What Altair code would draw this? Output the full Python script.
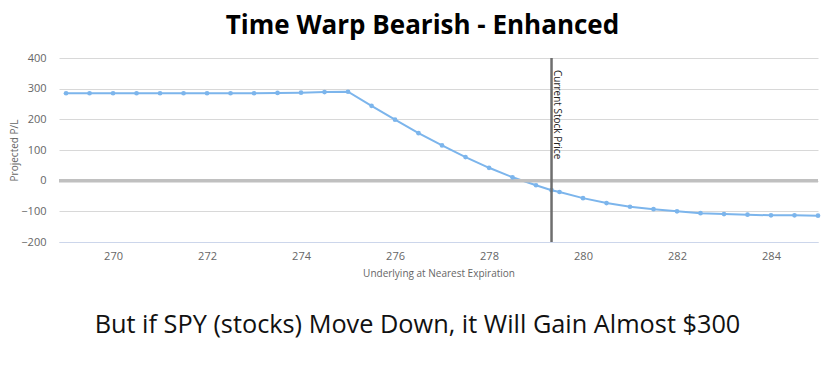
import altair as alt
import pandas as pd

# Data
underlying = [269, 269.5, 270, 270.5, 271, 271.5, 272, 272.5, 273, 273.5, 274, 274.5,
              275, 275.5, 276, 276.5, 277, 277.5, 278, 278.5, 279, 279.33, 279.5,
              280, 280.5, 281, 281.5, 282, 282.5, 283, 283.5, 284, 284.5, 285]
projected_pl = [285, 285, 285, 285, 285, 285, 285, 285, 285, 286, 287, 289,
                290, 244, 199, 155, 115, 77, 42, 11, -15, -31, -37,
                -57, -73, -85, -93, -100, -106, -109, -111, -113, -113, -114]
current_price = [279.33]
zero_level = [0]
y_ticks = [-200, -100, 0, 100, 200, 300, 400]
x_ticks = [270, 272, 274, 276, 278, 280, 282, 284]

title_text = "Time Warp Bearish - Enhanced"
caption_text = "But if SPY (stocks) Move Down, it Will Gain Almost $300"
label_text = "Current Stock Price"

df = pd.DataFrame({"u": underlying, "pl": projected_pl})
cur = pd.DataFrame({"u": current_price, "label": [label_text]})
zero = pd.DataFrame({"z": zero_level})

W, H = 759, 184
FONT = "Open Sans"

xscale = alt.Scale(domain=[268.85, 285], nice=False, zero=False)
yscale = alt.Scale(domain=[-200, 400], nice=False)

xaxis = alt.Axis(title="Underlying at Nearest Expiration", values=x_ticks,
                 grid=False, ticks=False, domainColor="#ccd6eb", domainWidth=1,
                 labelColor="#666666", labelFontSize=11, labelFont=FONT,
                 labelPadding=8, labelOverlap=False, titleFont=FONT,
                 titleFontSize=10, titleFontWeight="normal",
                 titleColor="#666666", titleX=W / 2, titleY=31,
                 titleAlign="center", titleBaseline="middle")
yaxis = alt.Axis(title="Projected P/L", values=y_ticks, tickCount=7, format="d",
                 grid=True, gridColor="#d8d8d8", gridWidth=1, domain=False,
                 ticks=False, labelColor="#666666", labelFontSize=11,
                 labelFont=FONT, labelPadding=13, labelOverlap=False,
                 titleFont=FONT, titleFontSize=10, titleFontWeight="normal",
                 titleColor="#666666", titleAngle=270, titleX=-45,
                 titleY=H / 2, titleAlign="center", titleBaseline="middle")

X = alt.X("u:Q", scale=xscale, axis=xaxis)
Y = alt.Y("pl:Q", scale=yscale, axis=yaxis)

base = alt.Chart(df)

line = base.mark_line(color="#7cb5ec", strokeWidth=2, interpolate="linear").encode(x=X, y=Y)
pts = base.mark_circle(color="#7cb5ec", size=22, opacity=1).encode(x=X, y=Y)

zero_rule = alt.Chart(zero).mark_rule(color="#c0c0c0", strokeWidth=3.5).encode(
    y=alt.Y("z:Q", scale=yscale, axis=yaxis))

vrule = alt.Chart(cur).mark_rule(color="#6e6e6e", strokeWidth=2.5).encode(
    x=alt.X("u:Q", scale=xscale, axis=xaxis))

vlabel = alt.Chart(cur).mark_text(angle=90, align="left", baseline="bottom", dx=3, dy=0,
                                  font=FONT, fontSize=10, color="#222222").encode(
    x=alt.X("u:Q", scale=xscale, axis=xaxis), y=alt.value(9), text="label:N")

caption = alt.Chart(cur).mark_text(font=FONT, fontSize=25.3, color="#111111",
                                   align="center", baseline="alphabetic").encode(
    x=alt.value(W / 2 - 21), y=alt.value(275), text=alt.value(caption_text))

chart = alt.layer(line, zero_rule, pts, vrule, vlabel, caption).properties(
    width=W, height=H,
    autosize=alt.AutoSizeParams(type="none"),
    padding={"left": 51, "top": 50, "right": 4, "bottom": 115},
    title=alt.TitleParams(title_text, anchor="middle", font=FONT, fontSize=26,
                          fontWeight="bold", color="#000000", offset=13, dx=-16),
).configure_view(stroke=None).configure_axis(labelFlush=False)

chart.save("out.html", embed_options={"renderer": "svg", "actions": False})
